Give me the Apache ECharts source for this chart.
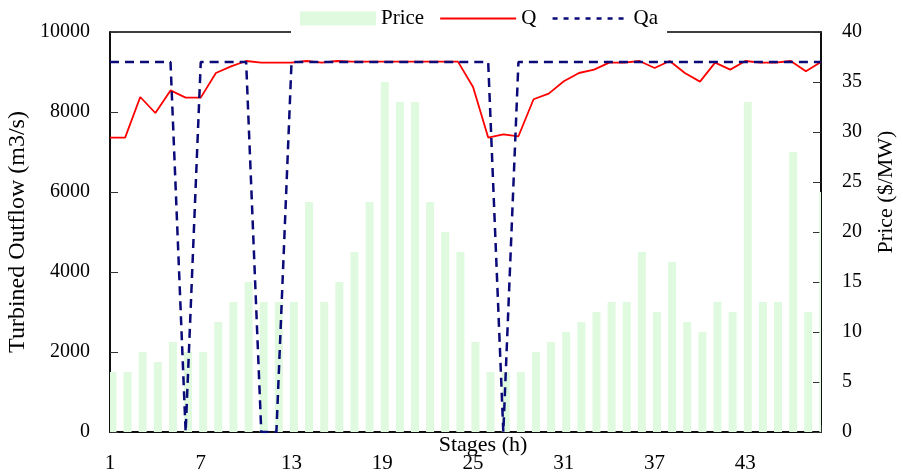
<!DOCTYPE html>
<html>
<head>
<meta charset="utf-8">
<script src="https://cdn.jsdelivr.net/npm/echarts@6/dist/echarts.min.js"></script>
<style>
html,body{margin:0;padding:0;background:#fff;}
#chart{width:903px;height:476px;}
</style>
</head>
<body>
<div id="chart"></div>
<script>
// ---- data ----
const stages = [1,2,3,4,5,6,7,8,9,10,11,12,13,14,15,16,17,18,19,20,21,22,23,24,
                25,26,27,28,29,30,31,32,33,34,35,36,37,38,39,40,41,42,43,44,45,46,47,48];
const price = [6,6,8,7,9,8,8,11,13,15,13,13,13,23,13,15,18,23,35,33,33,23,20,18,
               9,6,6,6,8,9,10,11,12,13,13,18,12,17,11,10,13,12,33,13,13,28,12,24];
const q = [7360,7360,8375,7975,8540,8360,8360,8975,9140,9275,9235,9235,9235,9275,9235,9275,
           9260,9260,9260,9260,9260,9260,9260,9260,8625,7360,7443,7393,8318,8460,8768,8975,
           9060,9235,9235,9275,9100,9275,8975,8760,9235,9060,9275,9235,9235,9275,9018,9250];
const qa = [9250,9250,9250,9250,9250,0,9250,9250,9250,9250,0,0,9250,9250,9250,9250,
            9250,9250,9250,9250,9250,9250,9250,9250,9250,9250,0,9250,9250,9250,9250,9250,
            9250,9250,9250,9250,9250,9250,9250,9250,9250,9250,9250,9250,9250,9250,9250,9250];
const xTickLabels = [1,7,13,19,25,31,37,43];

const FONT = 'Liberation Serif';
const BAR_COLOR = '#dffadf';
const BAR_WIDTH = 8;
const chart = echarts.init(document.getElementById('chart'));

function renderBar(params, api) {
  const top = api.coord([api.value(0), api.value(1)]);
  const base = api.coord([api.value(0), 0]);
  const cs = params.coordSys;
  const rect = echarts.graphic.clipRectByRect(
    {x: top[0] - BAR_WIDTH / 2, y: top[1], width: BAR_WIDTH, height: base[1] - top[1]},
    {x: cs.x, y: cs.y, width: cs.width, height: cs.height}
  );
  return rect && {type: 'rect', shape: rect, style: {fill: BAR_COLOR}};
}

const option = {
  animation: false,
  backgroundColor: '#fff',
  textStyle: {fontFamily: FONT, color: '#000'},
  grid: {left: 110, right: 82, top: 32, bottom: 44, containLabel: false, outerBoundsMode: 'none',
         show: true, borderColor: '#000', borderWidth: 1.5},
  legend: {
    left: 291, top: 2,
    padding: [6, 9, 6, 9],
    backgroundColor: '#fff',
    itemWidth: 76, itemHeight: 14, itemGap: 15,
    textStyle: {fontFamily: FONT, fontSize: 21, color: '#000'},
    data: [
      {name: 'Price', icon: 'rect', itemStyle: {color: BAR_COLOR}},
      {name: 'Q', itemStyle: {opacity: 0}},
      {name: 'Qa', itemStyle: {opacity: 0}, lineStyle: {type: [5, 6], width: 2.5, color: '#0a0a78'}}
    ]
  },
  xAxis: [
    {
      type: 'value', min: 1, max: 48, interval: 1,
      axisLine: {show: true, onZero: false, lineStyle: {color: '#000', width: 1.5}},
      axisTick: {show: true, inside: true, length: 7, lineStyle: {color: '#333', width: 1}},
      axisLabel: {
        margin: 21, fontSize: 21, fontFamily: FONT, color: '#000',
        formatter: v => xTickLabels.indexOf(v) >= 0 ? String(v) : ''
      },
      splitLine: {show: false},
      name: 'Stages (h)', nameLocation: 'middle', nameGap: 2, nameMoveOverlap: false,
      nameTextStyle: {fontSize: 22, fontFamily: FONT, color: '#000', padding: [0, 0, 0, 35]}
    },
    {
      type: 'value', min: 0.841, max: 47.841, show: false
    }
  ],
  yAxis: [
    {
      type: 'value', min: 0, max: 10000, interval: 2000, position: 'left',
      axisLine: {show: true, lineStyle: {color: '#000', width: 1.5}},
      axisTick: {show: true, inside: true, length: 8, lineStyle: {color: '#333', width: 1}},
      axisLabel: {margin: 20, fontSize: 20, fontFamily: FONT, color: '#000', formatter: v => String(v)},
      splitLine: {show: false},
      name: 'Turbined Outflow (m3/s)', nameLocation: 'middle', nameGap: 80, nameMoveOverlap: false,
      nameTextStyle: {fontSize: 24, fontFamily: FONT, color: '#000'}
    },
    {
      type: 'value', min: 0, max: 40, interval: 5, position: 'right',
      axisLine: {show: true, lineStyle: {color: '#000', width: 1.5}},
      axisTick: {show: true, inside: true, length: 8, lineStyle: {color: '#333', width: 1}},
      axisLabel: {margin: 21, fontSize: 20, fontFamily: FONT, color: '#000', formatter: v => String(v)},
      splitLine: {show: false},
      name: 'Price ($/MW)', nameLocation: 'middle', nameGap: 54, nameMoveOverlap: false,
      nameTextStyle: {fontSize: 22, fontFamily: FONT, color: '#000', padding: [0, 0, 0, 80]}
    }
  ],
  series: [
    {
      name: 'Price', type: 'custom', xAxisIndex: 1, yAxisIndex: 1,
      renderItem: renderBar,
      itemStyle: {color: BAR_COLOR},
      encode: {x: 0, y: 1},
      data: stages.map((s, i) => [s, price[i]])
    },
    {
      name: 'Q', type: 'line', xAxisIndex: 0, yAxisIndex: 0,
      symbol: 'none', color: '#ff0000', clip: true,
      lineStyle: {color: '#ff0000', width: 1.8},
      data: stages.map((s, i) => [s, q[i]])
    },
    {
      name: 'Qa', type: 'line', xAxisIndex: 0, yAxisIndex: 0,
      symbol: 'none', color: '#0a0a78', clip: true,
      lineStyle: {color: '#0a0a78', width: 2.5, type: [9, 6]},
      data: stages.map((s, i) => [s, qa[i]])
    }
  ]
};
chart.setOption(option);
</script>
</body>
</html>
